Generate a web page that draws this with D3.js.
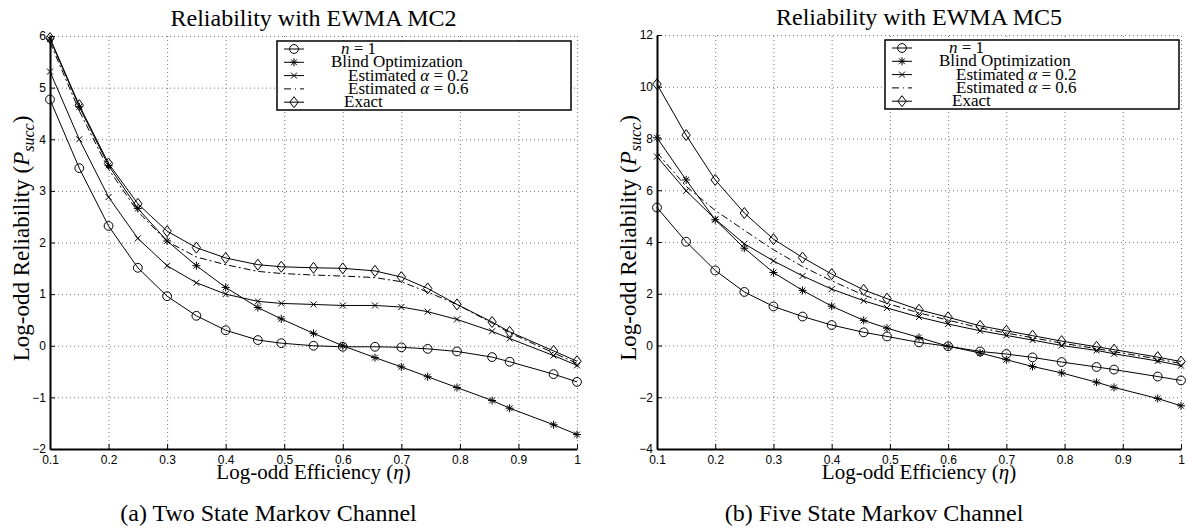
<!DOCTYPE html>
<html>
<head>
<meta charset="utf-8">
<script src="https://cdn.jsdelivr.net/npm/d3@7"></script>
<style>
body { margin: 0; background: #fff; }
.serif { font-family: "Liberation Serif", "Times New Roman", serif; fill: #000; }
.tick text { font-family: "Liberation Sans", Arial, sans-serif; font-size: 11px; fill: #000; }
.grid line { stroke: #777; stroke-dasharray: 1,3; stroke-width: 1; }
.grid path { display: none; }
</style>
</head>
<body>
<svg id="chart" width="1187" height="529"></svg>
<script>
// x positions of the measured points (log-odd efficiency)
var efficiency = [0.1, 0.15, 0.2, 0.25, 0.3, 0.35, 0.4, 0.455, 0.495, 0.55, 0.6, 0.655, 0.7, 0.745, 0.795, 0.855, 0.885, 0.96, 1.0];

// Two state Markov channel (MC2)
var mc2N1    = [4.77, 3.44, 2.32, 1.51, 0.96, 0.58, 0.30, 0.11, 0.05, 0.0, -0.02, -0.02, -0.03, -0.06, -0.11, -0.22, -0.31, -0.55, -0.70];
var mc2Blind = [5.94, 4.63, 3.49, 2.66, 2.03, 1.55, 1.13, 0.74, 0.52, 0.24, 0.0, -0.23, -0.41, -0.60, -0.81, -1.06, -1.21, -1.53, -1.72];
var mc2Est02 = [5.31, 4.0, 2.88, 2.08, 1.55, 1.22, 1.0, 0.86, 0.82, 0.80, 0.78, 0.78, 0.75, 0.66, 0.51, 0.28, 0.14, -0.19, -0.38];
var mc2Est06 = [5.88, 4.55, 3.42, 2.60, 2.02, 1.72, 1.57, 1.44, 1.40, 1.37, 1.35, 1.32, 1.24, 1.04, 0.80, 0.44, 0.25, -0.14, -0.34];
var mc2Exact = [5.96, 4.66, 3.53, 2.75, 2.22, 1.90, 1.70, 1.57, 1.53, 1.51, 1.50, 1.45, 1.33, 1.11, 0.80, 0.46, 0.27, -0.10, -0.30];

// Five state Markov channel (MC5)
var mc5N1    = [5.33, 4.01, 2.90, 2.07, 1.51, 1.12, 0.79, 0.51, 0.35, 0.12, -0.03, -0.23, -0.33, -0.46, -0.64, -0.83, -0.93, -1.20, -1.35];
var mc5Blind = [8.03, 6.40, 4.86, 3.76, 2.82, 2.13, 1.52, 0.97, 0.67, 0.31, -0.03, -0.29, -0.55, -0.81, -1.06, -1.42, -1.62, -2.05, -2.33];
var mc5Est02 = [7.30, 5.98, 4.88, 3.93, 3.27, 2.69, 2.18, 1.73, 1.45, 1.10, 0.83, 0.57, 0.39, 0.21, 0.0, -0.19, -0.32, -0.60, -0.78];
var mc5Est06 = [7.45, 6.15, 5.22, 4.45, 3.70, 3.05, 2.50, 1.95, 1.63, 1.26, 0.98, 0.68, 0.48, 0.30, 0.09, -0.12, -0.24, -0.52, -0.70];
var mc5Exact = [10.1, 8.13, 6.40, 5.12, 4.11, 3.40, 2.76, 2.15, 1.81, 1.38, 1.09, 0.76, 0.57, 0.38, 0.17, -0.05, -0.16, -0.45, -0.62];

var xTicks = [0.1, 0.2, 0.3, 0.4, 0.5, 0.6, 0.7, 0.8, 0.9, 1];
var mc2YTicks = [-2, -1, 0, 1, 2, 3, 4, 5, 6];
var mc5YTicks = [-4, -2, 0, 2, 4, 6, 8, 10, 12];

var seriesNames = ["n = 1", "Blind Optimization", "Estimated \u03b1 = 0.2", "Estimated \u03b1 = 0.6", "Exact"];
var markers = ["circle", "star", "x", "none", "diamond"];

var svg = d3.select("#chart");

function markerPath(type) {
  var p = d3.path();
  if (type == "circle") {
    p.moveTo(4.4, 0); p.arc(0, 0, 4.4, 0, 2 * Math.PI);
  } else if (type == "diamond") {
    p.moveTo(0, -5.5); p.lineTo(4.2, 0); p.lineTo(0, 5.5); p.lineTo(-4.2, 0); p.closePath();
  } else if (type == "star") {
    var r = 4, d = 2.9;
    p.moveTo(-r, 0); p.lineTo(r, 0);
    p.moveTo(0, -r); p.lineTo(0, r);
    p.moveTo(-d, -d); p.lineTo(d, d);
    p.moveTo(-d, d); p.lineTo(d, -d);
  } else if (type == "x") {
    var s = 3;
    p.moveTo(-s, -s); p.lineTo(s, s);
    p.moveTo(-s, s); p.lineTo(s, -s);
  }
  return p.toString();
}

function fmt(v) {
  return (v < 0 ? "\u2212" + Math.abs(v) : "" + v);
}

function drawPanel(opt) {
  var width = opt.right - opt.left,
    height = opt.bottom - opt.top;
  var g = svg.append("g").attr("transform", "translate(" + opt.left + "," + opt.top + ")");

  var x = d3.scaleLinear().domain([0.1, 1]).range([0, width]);
  var y = d3.scaleLinear().domain(opt.yDomain).range([height, 0]);

  // dotted grid
  g.append("g").attr("class", "grid")
    .call(d3.axisLeft(y).tickValues(opt.yTicks).tickSize(-width).tickFormat(""));
  g.append("g").attr("class", "grid").attr("transform", "translate(0," + height + ")")
    .call(d3.axisBottom(x).tickValues(xTicks).tickSize(-height).tickFormat(""));

  // axes (ticks point inward)
  var yAxis = g.append("g")
    .call(d3.axisLeft(y).tickValues(opt.yTicks).tickSizeInner(-5).tickSizeOuter(0).tickPadding(4).tickFormat(fmt));
  var xAxis = g.append("g").attr("transform", "translate(0," + height + ")")
    .call(d3.axisBottom(x).tickValues(xTicks).tickSizeInner(-5).tickSizeOuter(0).tickPadding(6).tickFormat(function(d) { return d; }));
  yAxis.select(".domain").attr("stroke-width", 2);
  xAxis.select(".domain").attr("stroke-width", 2);
  yAxis.selectAll(".tick text").style("font-size", "12px");
  xAxis.selectAll(".tick text").style("font-size", "12px");

  var line = d3.line()
    .x(function(d) { return x(d.x); })
    .y(function(d) { return y(d.y); });

  opt.series.forEach(function(vals, i) {
    var pts = efficiency.map(function(e, j) { return {x: e, y: vals[j]}; });
    g.append("path")
      .datum(pts)
      .attr("fill", "none")
      .attr("stroke", "#000")
      .attr("stroke-width", 1)
      .attr("stroke-dasharray", markers[i] == "none" ? "7,3,2,3" : null)
      .attr("d", line);
    if (markers[i] != "none") {
      g.selectAll(null).data(pts).enter().append("path")
        .attr("transform", function(d) { return "translate(" + x(d.x) + "," + y(d.y) + ")"; })
        .attr("d", markerPath(markers[i]))
        .attr("fill", "none")
        .attr("stroke", "#000")
        .attr("stroke-width", 1);
    }
  });

  // title
  g.append("text").attr("class", "serif")
    .attr("x", width / 2).attr("y", -10)
    .attr("text-anchor", "middle")
    .style("font-size", "24px")
    .text(opt.title);

  // x label
  var xl = g.append("text").attr("class", "serif")
    .attr("x", width / 2).attr("y", height + 30)
    .attr("text-anchor", "middle")
    .style("font-size", "21px");
  xl.append("tspan").text("Log-odd Efficiency (");
  xl.append("tspan").style("font-style", "italic").text("\u03b7");
  xl.append("tspan").text(")");

  // y label
  var yl = g.append("text").attr("class", "serif")
    .attr("transform", "translate(-21," + (height / 2 - 4) + ") rotate(-90)")
    .attr("text-anchor", "middle")
    .style("font-size", "23px");
  yl.append("tspan").text("Log-odd Reliability (");
  yl.append("tspan").style("font-style", "italic").text("P");
  yl.append("tspan").style("font-style", "italic").style("font-size", "16px").attr("dy", 5).text("succ");
  yl.append("tspan").attr("dy", -5).text(")");

  // caption
  g.append("text").attr("class", "serif")
    .attr("x", width / 2 - 45).attr("y", height + 72)
    .attr("text-anchor", "middle")
    .style("font-size", "24px")
    .text(opt.caption);

  // legend
  var lw = 294, lh = 69;
  var lg = g.append("g").attr("transform", "translate(" + (width - lw - opt.legendGap) + ",5)");
  lg.append("rect").attr("width", lw).attr("height", lh)
    .attr("fill", "#fff").attr("stroke", "#000").attr("stroke-width", 1.5);
  var textX = [64, 54, 71, 71, 67];
  seriesNames.forEach(function(name, i) {
    var ly = 8 + i * 13.3;
    lg.append("line").attr("x1", 7).attr("x2", 27).attr("y1", ly).attr("y2", ly)
      .attr("stroke", "#000").attr("stroke-width", 1)
      .attr("stroke-dasharray", markers[i] == "none" ? "7,4,1,4" : null);
    if (markers[i] != "none") {
      lg.append("path").attr("transform", "translate(17," + ly + ")")
        .attr("d", markerPath(markers[i]))
        .attr("fill", "none").attr("stroke", "#000");
    }
    var t = lg.append("text").attr("class", "serif")
      .attr("x", textX[i]).attr("y", ly + 5)
      .style("font-size", "17px");
    if (i == 0) {
      t.append("tspan").style("font-style", "italic").text("n");
      t.append("tspan").text(" = 1");
    } else if (i == 2 || i == 3) {
      t.append("tspan").text("Estimated ");
      t.append("tspan").style("font-style", "italic").text("\u03b1");
      t.append("tspan").text(" = " + (i == 2 ? "0.2" : "0.6"));
    } else {
      t.text(name);
    }
  });
}

drawPanel({
  left: 50, right: 577, top: 36, bottom: 449,
  yDomain: [-2, 6], yTicks: mc2YTicks,
  series: [mc2N1, mc2Blind, mc2Est02, mc2Est06, mc2Exact],
  title: "Reliability with EWMA MC2",
  caption: "(a) Two State Markov Channel",
  legendGap: 6
});

drawPanel({
  left: 657, right: 1181, top: 35, bottom: 449,
  yDomain: [-4, 12], yTicks: mc5YTicks,
  series: [mc5N1, mc5Blind, mc5Est02, mc5Est06, mc5Exact],
  title: "Reliability with EWMA MC5",
  caption: "(b) Five State Markov Channel",
  legendGap: 2
});
</script>
</body>
</html>
